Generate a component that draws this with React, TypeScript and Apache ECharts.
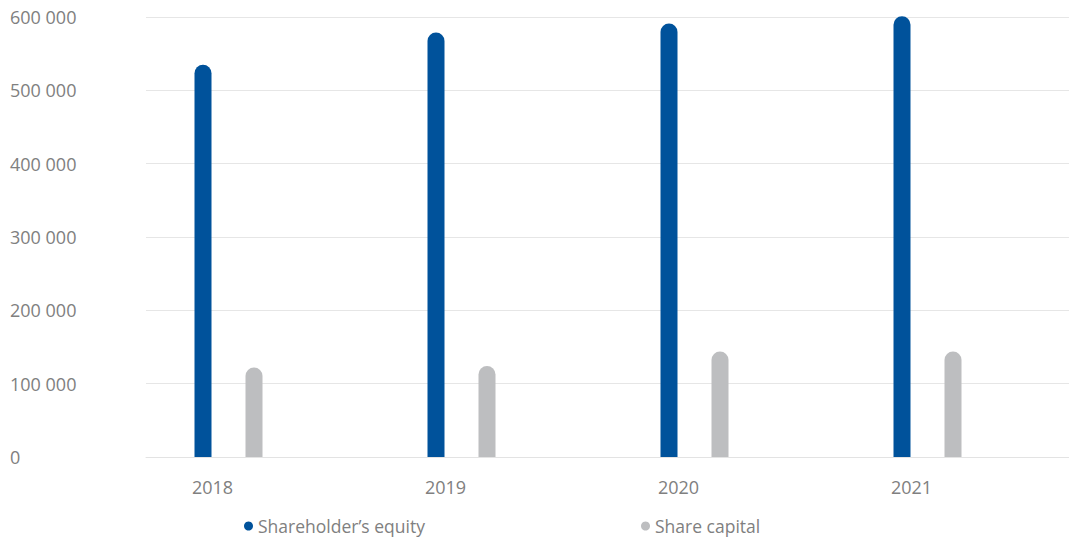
import React, { useEffect, useRef } from "react";
import * as echarts from "echarts";

const years = ["2018", "2019", "2020", "2021"];
const shareholdersEquity = [535000, 579000, 591000, 601000];
const shareCapital = [122000, 124000, 144000, 144000];
const yTicks = [0, 100000, 200000, 300000, 400000, 500000, 600000];

const BLUE = "#00529B";
const GREY = "#BDBEC0";
const TEXT = "#808080";
const FONT = "'Open Sans', sans-serif";

const fmt = (v: number) => String(v).replace(/\B(?=(\d{3})+(?!\d))/g, " ");

export default function App() {
  const ref = useRef<HTMLDivElement>(null);
  useEffect(() => {
    if (!ref.current) return;
    const chart = echarts.init(ref.current, undefined, { renderer: "svg" });
    const yMin = yTicks[0];
    const yMax = yTicks[yTicks.length - 1];
    const yInterval = yTicks[1] - yTicks[0];
    const legendText = { color: TEXT, fontSize: 17.5, fontFamily: FONT };
    chart.setOption({
      animation: false,
      textStyle: { fontFamily: FONT },
      grid: [
        { left: 146, right: 0, top: 17, bottom: 83 },
        { left: 112, right: 25, top: 17, bottom: 83 },
      ],
      legend: [
        {
          data: ["Shareholder\u2019s equity"],
          left: 239,
          top: 512,
          icon: "circle",
          itemWidth: 9,
          itemHeight: 9,
          itemGap: 0,
          textStyle: legendText,
        },
        {
          data: ["Share capital"],
          left: 636,
          top: 512,
          icon: "circle",
          itemWidth: 9,
          itemHeight: 9,
          itemGap: 0,
          textStyle: legendText,
        },
      ],
      xAxis: [
        {
          type: "category",
          gridIndex: 0,
          data: years,
          axisLine: { show: true, lineStyle: { color: "#E3E3E3", width: 1 } },
          axisTick: { show: false },
          axisLabel: { show: false },
          splitLine: { show: false },
        },
        {
          type: "category",
          gridIndex: 1,
          data: years,
          axisLine: { show: false },
          axisTick: { show: false },
          axisLabel: {
            color: TEXT,
            fontSize: 18,
            fontFamily: FONT,
            margin: 21,
            padding: [0, 32, 0, 0],
          },
          splitLine: { show: false },
        },
      ],
      yAxis: [
        {
          type: "value",
          gridIndex: 0,
          min: yMin,
          max: yMax,
          interval: yInterval,
          axisLine: { show: false },
          axisTick: { show: false },
          axisLabel: {
            color: TEXT,
            fontSize: 18,
            fontFamily: FONT,
            align: "left",
            margin: 136,
            formatter: (v: number) => fmt(v),
          },
          splitLine: { show: true, lineStyle: { color: "#E6E6E6", width: 1 } },
        },
        {
          type: "value",
          gridIndex: 1,
          min: yMin,
          max: yMax,
          interval: yInterval,
          show: false,
          splitLine: { show: false },
        },
      ],
      series: [
        {
          name: "Shareholder\u2019s equity",
          type: "bar",
          xAxisIndex: 1,
          yAxisIndex: 1,
          data: shareholdersEquity,
          barWidth: 17,
          barGap: "200%",
          clip: false,
          itemStyle: { color: BLUE, borderRadius: [8.5, 8.5, 0, 0] },
        },
        {
          name: "Share capital",
          type: "bar",
          xAxisIndex: 1,
          yAxisIndex: 1,
          data: shareCapital,
          barWidth: 17,
          barGap: "200%",
          clip: false,
          itemStyle: { color: GREY, borderRadius: [8.5, 8.5, 0, 0] },
        },
      ],
    });
    return () => chart.dispose();
  }, []);
  return (
    <div
      ref={ref}
      style={{ position: "absolute", left: 0, top: 0, width: 1069, height: 540, background: "#fff" }}
    />
  );
}
